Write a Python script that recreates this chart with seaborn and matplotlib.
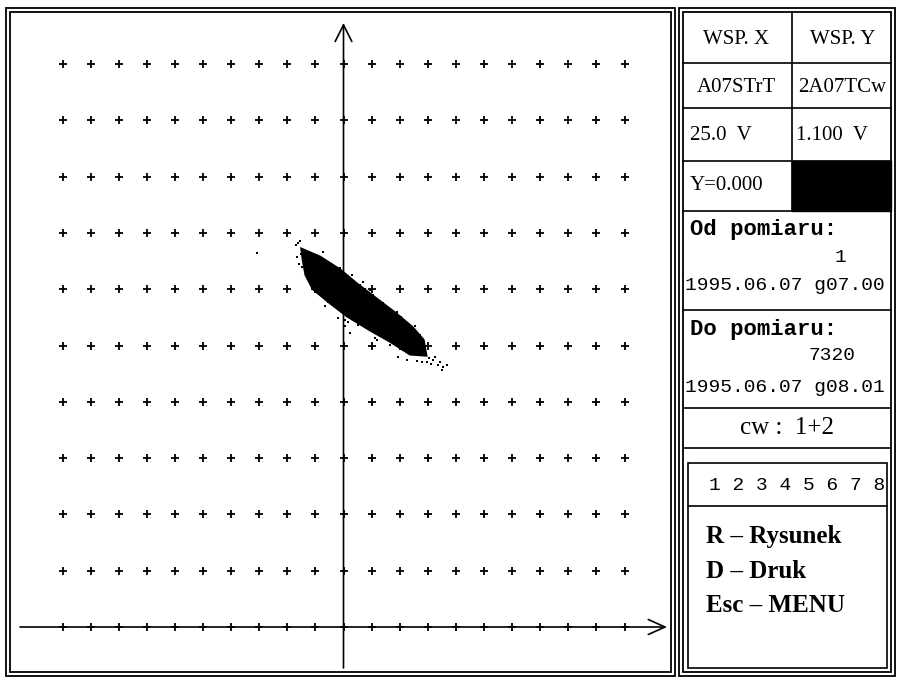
import numpy as np
import pandas as pd
import matplotlib.pyplot as plt
import seaborn as sns
from matplotlib.patches import Rectangle

# division marks (in divisions, axis origin = 0,0)
grid_x = [-10, -9, -8, -7, -6, -5, -4, -3, -2, -1, 0, 1, 2, 3, 4, 5, 6, 7, 8, 9, 10]
grid_y = [0, 1, 2, 3, 4, 5, 6, 7, 8, 9, 10]

# outline of the dense point cloud
cloud_x = [-1.50, -0.84, -0.12, 0.48, 1.19, 1.90, 2.47, 2.85, 2.95,
           2.37, 1.65, 0.94, 0.12, -0.48, -1.09, -1.35, -1.45]
cloud_y = [6.72, 6.58, 6.35, 6.10, 5.83, 5.56, 5.32, 5.10, 4.82,
           4.84, 5.07, 5.27, 5.52, 5.75, 6.00, 6.25, 6.52]

# loose points around the cloud
stray_x = [-1.62, -1.55, -1.68, -1.65, -0.73, -0.12, 0.23, 0.59, 0.94, 0.69,
           0.52, 0.16, 0.23, -0.55, 1.12, 1.65, 2.12, 2.62, 2.97, 3.19,
           3.36, 3.54, 3.51, 3.68, 1.94, 2.26, 1.90, 1.55, 2.37, 2.72,
           -1.19, -1.48, 0.05, -3.08, -0.95, -0.30, 0.40, 1.30, 3.05, 2.80,
           0.80, -1.00, 1.40, -1.58, -1.52, 0.30, 0.75, 1.05, 1.75, 2.05,
           2.55, 2.90, 3.10, 3.25, -0.20, -0.65, 0.05, 1.20, 2.60, 3.45]
stray_y = [6.82, 6.86, 6.78, 6.57, 6.66, 6.38, 6.11, 6.07, 5.99, 6.13,
           5.36, 5.42, 5.22, 5.77, 5.13, 5.01, 4.92, 4.87, 4.71, 4.74,
           4.65, 4.62, 4.56, 4.65, 4.80, 4.74, 5.60, 5.68, 5.33, 5.19,
           6.20, 6.39, 5.45, 6.64, 6.55, 6.40, 5.50, 5.20, 4.78, 4.70,
           5.90, 6.00, 5.75, 6.45, 6.62, 6.25, 6.00, 5.90, 5.62, 5.50,
           5.35, 5.00, 4.68, 4.80, 5.48, 5.70, 5.35, 5.10, 4.72, 4.70]

# side panel texts
hdr_x = ['WSP. X', 'A07STrT', '25.0  V', 'Y=0.000']
hdr_y = ['WSP. Y', '2A07TCw', '1.100  V']
od_lines = ['Od pomiaru:', '1', '1995.06.07 g07.00']
do_lines = ['Do pomiaru:', '7320', '1995.06.07 g08.01']
channels = 'cw :  1+2'
keys_row = '1 2 3 4 5 6 7 8'
menu = ['R \u2013 Rysunek', 'D \u2013 Druk', 'Esc \u2013 MENU']

sns.set_theme(style='white')
plt.rcParams['font.family'] = ['Liberation Serif', 'DejaVu Serif']
plt.rcParams['text.color'] = 'black'

W, H = 897, 677
fig = plt.figure(figsize=(W / 100, H / 100), dpi=100)

# background axes in screen pixels for frames and the side panel
bg = fig.add_axes([0, 0, 1, 1])
bg.set_xlim(0, W)
bg.set_ylim(H, 0)
bg.axis('off')

def box(x0, y0, x1, y1, lw=1.3):
    bg.add_patch(Rectangle((x0, y0), x1 - x0, y1 - y0, fill=False, ec='black', lw=lw))

# double frames
box(6, 8, 675, 676)
box(10, 12, 671, 672)
box(679, 8, 895, 676)
box(683, 12, 891, 672)

# cells of the side panel
for yy in [63, 108, 161, 211, 310, 408, 448]:
    bg.plot([683, 891], [yy, yy], color='black', lw=1.2)
bg.plot([792, 792], [12, 211], color='black', lw=1.2)
bg.add_patch(Rectangle((792, 161), 99, 50, color='black'))
box(688, 463, 887, 668, lw=1.2)
bg.plot([688, 887], [506, 506], color='black', lw=1.2)

cond = dict(family='Liberation Serif', fontsize=15, va='center', color='black')
bg.text(736, 40, hdr_x[0], ha='center', **cond)
bg.text(843, 40, hdr_y[0], ha='center', **cond)
bg.text(736, 87, hdr_x[1], ha='center', **cond)
bg.text(842, 87, hdr_y[1], ha='center', **cond)
bg.text(690, 135, hdr_x[2], ha='left', **cond)
bg.text(796, 135, hdr_y[2], ha='left', **cond)
bg.text(690, 186, hdr_x[3], ha='left', **cond)

mono_b = dict(family='Liberation Mono', fontsize=16, fontweight='bold', va='center', color='black')
mono = dict(family='Liberation Mono', fontsize=14, va='center', color='black')
bg.text(690, 230, od_lines[0], ha='left', **mono_b)
bg.text(840, 258, od_lines[1], ha='center', **mono)
bg.text(685, 286, od_lines[2], ha='left', **mono)
bg.text(690, 329, do_lines[0], ha='left', **mono_b)
bg.text(855, 356, do_lines[1], ha='right', **mono)
bg.text(685, 388, do_lines[2], ha='left', **mono)

bg.text(787, 428, channels, ha='center', va='center', family='Liberation Serif',
        fontsize=18, color='black')
bg.text(797, 486, keys_row, ha='center', va='center', family='Liberation Mono',
        fontsize=14, color='black')
for yy, s in zip([537, 572, 606], menu):
    bg.text(706, yy, s, ha='left', va='center', family='Liberation Serif',
            fontsize=18, fontweight='bold', color='black')

# plot area, scaled so one division = 28.1 px across, 56.3 px up
px0, px1, py0, py1 = 12, 669, 14, 670
ox, oy, sx, sy = 343.5, 627.0, 28.1, 56.3
ax = fig.add_axes([px0 / W, 1 - py1 / H, (px1 - px0) / W, (py1 - py0) / H])
ax.set_xlim((px0 - ox) / sx, (px1 - ox) / sx)
ax.set_ylim((oy - py1) / sy, (oy - py0) / sy)
ax.axis('off')
ax.patch.set_alpha(0)

gx, gy = np.meshgrid(grid_x, grid_y)
grid = pd.DataFrame({'x': gx.ravel(), 'y': gy.ravel()})
sns.scatterplot(data=grid, x='x', y='y', marker='+', s=34, color='black',
                linewidth=1.3, ax=ax, legend=False)

# axes with open arrow heads
ax.annotate('', xy=(0, (oy - 23) / sy), xytext=(0, (oy - 668) / sy),
            arrowprops=dict(arrowstyle='->,head_length=1.0,head_width=0.5',
                            color='black', lw=1.2, shrinkA=0, shrinkB=0))
ax.annotate('', xy=((667 - ox) / sx, 0), xytext=((20 - ox) / sx, 0),
            arrowprops=dict(arrowstyle='->,head_length=1.0,head_width=0.45',
                            color='black', lw=1.2, shrinkA=0, shrinkB=0))

# measured points
ax.fill(cloud_x, cloud_y, color='black', lw=1.5, ec='black')
sns.scatterplot(x=stray_x, y=stray_y, marker='s', s=4, color='black',
                linewidth=0, ax=ax, legend=False)

fig.savefig('out.png', dpi=100)
